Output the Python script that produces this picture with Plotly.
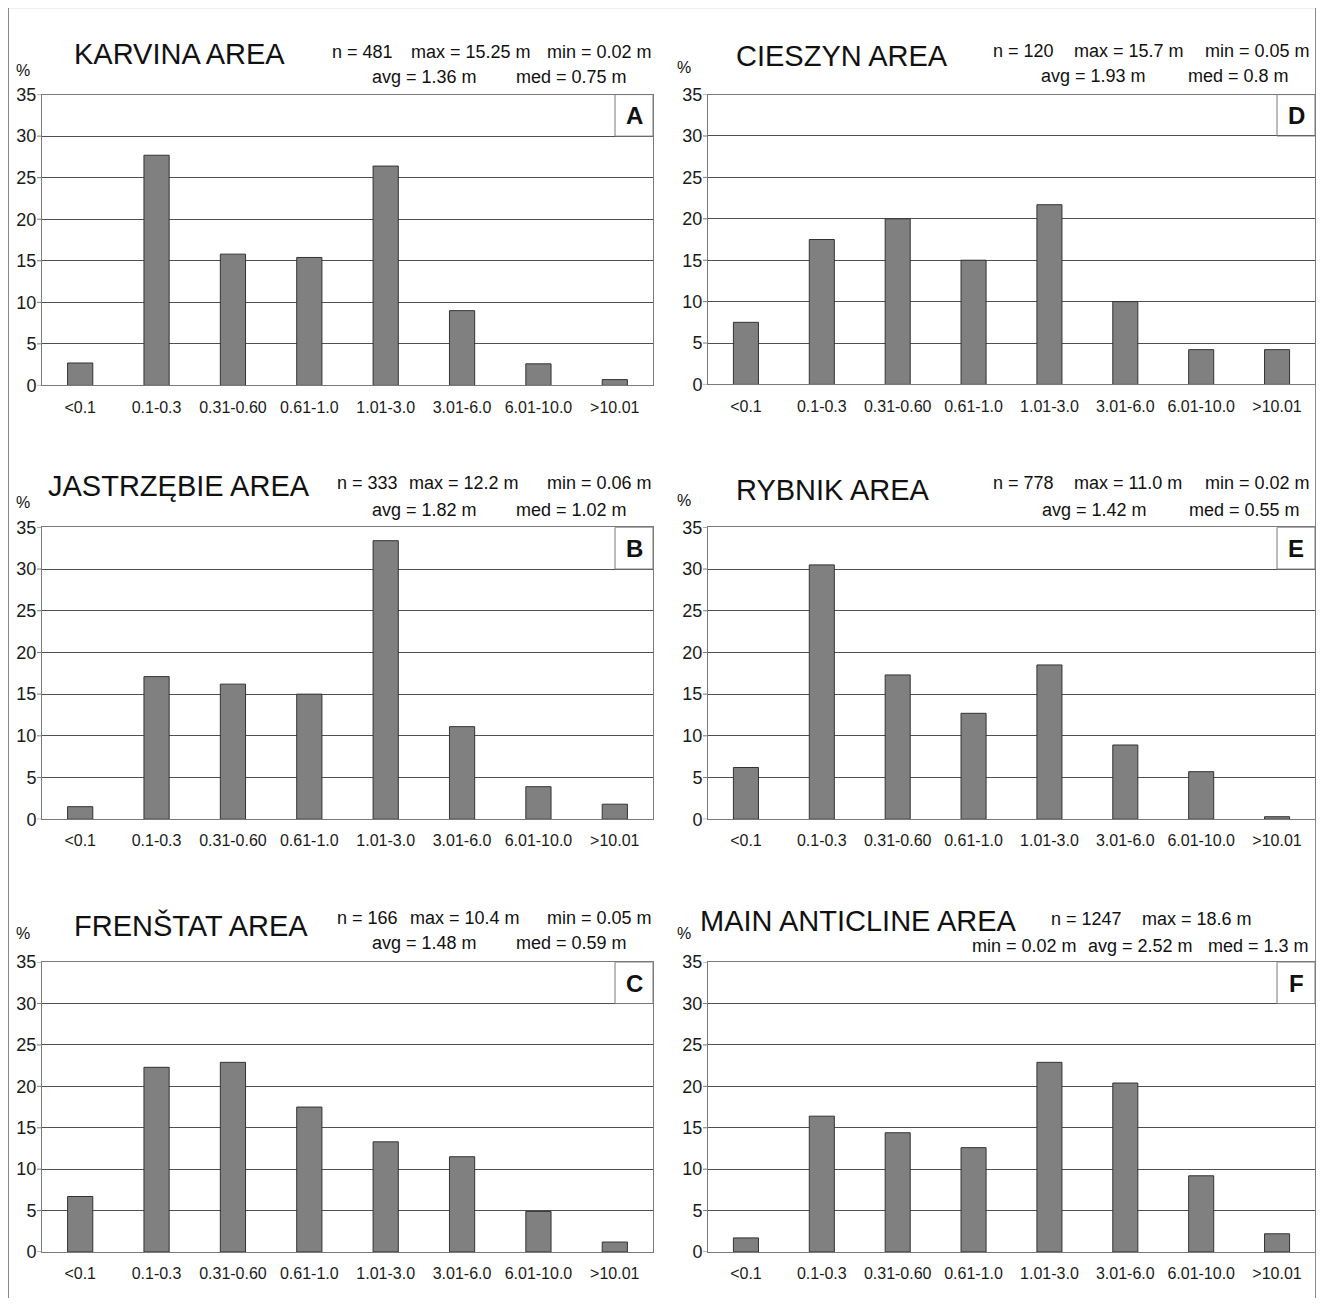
import plotly.graph_objects as go

# ---------------- data ----------------
categories = ["<0.1", "0.1-0.3", "0.31-0.60", "0.61-1.0", "1.01-3.0", "3.01-6.0", "6.01-10.0", ">10.01"]

karvina = [2.7, 27.7, 15.8, 15.4, 26.4, 9.0, 2.6, 0.7]
jastrzebie = [1.5, 17.1, 16.2, 15.0, 33.4, 11.1, 3.9, 1.8]
frenstat = [6.7, 22.3, 22.9, 17.5, 13.3, 11.5, 4.9, 1.2]
cieszyn = [7.5, 17.5, 20.0, 15.0, 21.7, 10.0, 4.2, 4.2]
rybnik = [6.2, 30.5, 17.3, 12.7, 18.5, 8.9, 5.7, 0.3]
main_anticline = [1.7, 16.4, 14.4, 12.6, 22.9, 20.4, 9.2, 2.2]

titles = ["KARVINA AREA", "JASTRZĘBIE AREA", "FRENŠTAT AREA",
          "CIESZYN AREA", "RYBNIK AREA", "MAIN ANTICLINE AREA"]
letters = ["A", "B", "C", "D", "E", "F"]
stats = [
    ["n = 481", "max = 15.25 m", "min = 0.02 m", "avg = 1.36 m", "med = 0.75 m"],
    ["n = 333", "max = 12.2 m", "min = 0.06 m", "avg = 1.82 m", "med = 1.02 m"],
    ["n = 166", "max = 10.4 m", "min = 0.05 m", "avg = 1.48 m", "med = 0.59 m"],
    ["n = 120", "max = 15.7 m", "min = 0.05 m", "avg = 1.93 m", "med = 0.8 m"],
    ["n = 778", "max = 11.0 m", "min = 0.02 m", "avg = 1.42 m", "med = 0.55 m"],
    ["n = 1247", "max = 18.6 m", "min = 0.02 m", "avg = 2.52 m", "med = 1.3 m"],
]
y_ticks = [0, 5, 10, 15, 20, 25, 30, 35]
series = [karvina, jastrzebie, frenstat, cieszyn, rybnik, main_anticline]

# ---------------- layout helpers ----------------
OFF = 8                 # default body margin of the page
W, H = 1308, 1290
FONT = "Liberation Sans, Arial, sans-serif"
V_A, V_B = 9.5, 0.985   # observed vertical mapping of the photographed page


def px(x):
    return (x - OFF) / W


def py(y):
    ypage = (y - V_A) / V_B
    return 1 - (ypage - OFF) / H


# panel geometry in target pixels: (x0, x1, ytop, ybottom)
geom = [
    (42, 653, 94, 385),
    (42, 653, 527, 819),
    (42, 653, 962, 1252),
    (708, 1315, 94, 384),
    (708, 1315, 527, 819),
    (708, 1315, 962, 1252),
]
title_pos = [(72, 53), (46, 486), (72, 925), (734, 55), (734, 490), (698, 921)]
pct_pos = [(23, 70), (23, 502), (23, 933), (684, 67), (684, 500), (684, 933)]
# stat text positions: (x, y, anchor)
stat_pos = [
    [(330, 51, "left"), (409, 51, "left"), (654, 51, "right"), (370, 76, "left"), (514, 76, "left")],
    [(335, 483, "left"), (407, 483, "left"), (654, 483, "right"), (370, 510, "left"), (514, 510, "left")],
    [(335, 918, "left"), (408, 918, "left"), (654, 918, "right"), (370, 943, "left"), (514, 943, "left")],
    [(991, 50, "left"), (1072, 50, "left"), (1312, 50, "right"), (1039, 75, "left"), (1186, 75, "left")],
    [(991, 483, "left"), (1072, 483, "left"), (1312, 483, "right"), (1040, 510, "left"), (1187, 510, "left")],
    [(1049, 919, "left"), (1140, 919, "left"), (970, 946, "left"), (1086, 946, "left"), (1206, 946, "left")],
]

AXIS_COLOR = "#7a7a7a"
GRID_COLOR = "#505050"
BAR_FILL = "#808080"
BAR_LINE = "#333333"
TICK_LEN = 5

fig = go.Figure()
annotations = []
shapes = []

for i, vals in enumerate(series):
    k = "" if i == 0 else str(i + 1)
    xa, ya = "x" + k, "y" + k
    fig.add_trace(go.Bar(
        x=categories, y=vals, xaxis=xa, yaxis=ya, width=0.33,
        marker=dict(color=BAR_FILL, line=dict(color=BAR_LINE, width=1)),
        showlegend=False, hoverinfo="x+y",
    ))
    x0, x1, yt, yb = geom[i]
    fig.layout["xaxis" + k] = dict(
        domain=[px(x0), px(x1)], anchor=ya, type="category",
        showline=True, linecolor=AXIS_COLOR, linewidth=1, mirror=True,
        showgrid=False, zeroline=False, ticks="", ticklabelstandoff=7,
        tickfont=dict(family=FONT, size=16, color="#1a1a1a"),
        range=[-0.5, 7.5], fixedrange=True,
    )
    fig.layout["yaxis" + k] = dict(
        domain=[py(yb), py(yt)], anchor=xa, range=[0, 35],
        tickvals=y_ticks, showgrid=True, gridcolor=GRID_COLOR, gridwidth=1,
        showline=True, linecolor=AXIS_COLOR, linewidth=1, mirror=True,
        zeroline=False, ticks="", ticklabelstandoff=1,
        tickfont=dict(family=FONT, size=18, color="#1a1a1a"),
        fixedrange=True,
    )
    # outside tick marks on the y axis, at the tick values
    for tv in y_ticks:
        shapes.append(dict(type="line", xref=xa + " domain", yref=ya,
                           x0=-TICK_LEN / (x1 - x0), x1=0, y0=tv, y1=tv,
                           line=dict(color=AXIS_COLOR, width=1)))
    # letter box
    bw = 38
    shapes.append(dict(type="rect", xref=xa + " domain", yref=ya,
                       x0=1 - bw / (x1 - x0), x1=1, y0=30, y1=35,
                       line=dict(color=AXIS_COLOR, width=1), fillcolor="rgba(0,0,0,0)"))
    annotations.append(dict(xref="paper", yref="paper", x=px(x1 - bw / 2), y=py(yt + 21),
                            text="<b>%s</b>" % letters[i], showarrow=False,
                            xanchor="center", yanchor="middle",
                            font=dict(family=FONT, size=24, color="#111")))
    # title
    tx, ty = title_pos[i]
    annotations.append(dict(xref="paper", yref="paper", x=px(tx), y=py(ty),
                            text=titles[i], showarrow=False, xanchor="left", yanchor="middle",
                            font=dict(family=FONT, size=29, color="#111")))
    # percent sign
    qx, qy = pct_pos[i]
    annotations.append(dict(xref="paper", yref="paper", x=px(qx), y=py(qy),
                            text="%", showarrow=False, xanchor="center", yanchor="middle",
                            font=dict(family=FONT, size=16, color="#111")))
    # stats
    for txt, (sx, sy, anc) in zip(stats[i], stat_pos[i]):
        annotations.append(dict(xref="paper", yref="paper", x=px(sx), y=py(sy),
                                text=txt, showarrow=False, xanchor=anc, yanchor="middle",
                                font=dict(family=FONT, size=18, color="#111")))

# outer frame (left, top, right edges)
shapes.append(dict(type="rect", xref="paper", yref="paper",
                   x0=px(8.5), x1=px(1315.5), y0=py(1330), y1=py(7),
                   line=dict(color="#8a8a8a", width=1), fillcolor="rgba(0,0,0,0)", layer="below"))

fig.update_layout(
    width=W, height=H, autosize=False,
    margin=dict(l=0, r=0, t=0, b=0, pad=0),
    paper_bgcolor="white", plot_bgcolor="white",
    annotations=annotations, shapes=shapes,
    font=dict(family=FONT, color="#111"),
)

fig.write_html("out.html")
